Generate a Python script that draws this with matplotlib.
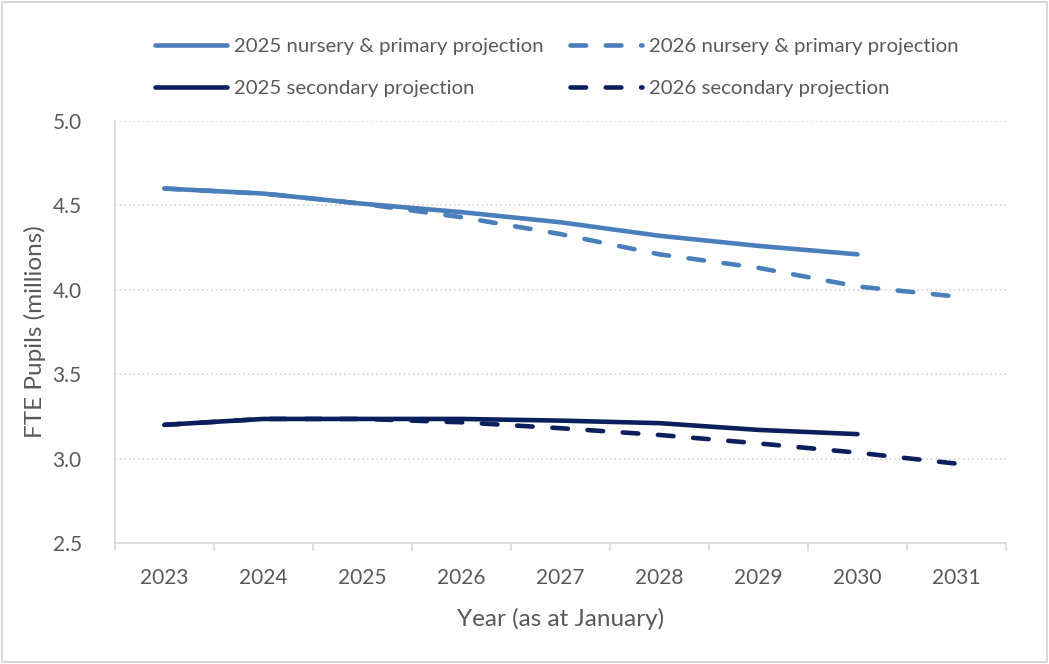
import numpy as np
import matplotlib
matplotlib.use("Agg")
from matplotlib import pyplot as plt

plt.rcParams['font.family'] = ['Lato', 'DejaVu Sans']

# data (millions of FTE pupils)
years = ['2023', '2024', '2025', '2026', '2027', '2028', '2029', '2030', '2031']
prim_2025 = [4.60, 4.57, 4.51, 4.46, 4.40, 4.32, 4.26, 4.21]
prim_2026 = [4.60, 4.57, 4.51, 4.43, 4.33, 4.21, 4.13, 4.02, 3.96]
sec_2025 = [3.20, 3.235, 3.235, 3.235, 3.225, 3.21, 3.17, 3.145]
sec_2026 = [3.20, 3.235, 3.235, 3.215, 3.18, 3.14, 3.09, 3.035, 2.97]

light = '#4a7ebb'
dark = '#0b1f5c'
grey_txt = '#595959'

fig = plt.figure(figsize=(10.49, 6.64), dpi=100)
ax = fig.add_axes([115/1049, 1-543/664, (1006-115)/1049, (543-121)/664])

x = np.arange(len(years))
lw = 3.3
dash = (3.4, 4.3)
l1, = ax.plot(x[:len(prim_2025)], prim_2025, color=light, lw=lw, solid_capstyle='round',
              label='2025 nursery & primary projection')
l2, = ax.plot(x, prim_2026, color=light, lw=lw, dashes=dash, dash_capstyle='round',
              label='2026 nursery & primary projection')
l3, = ax.plot(x[:len(sec_2025)], sec_2025, color=dark, lw=lw, solid_capstyle='round',
              label='2025 secondary projection')
l4, = ax.plot(x, sec_2026, color=dark, lw=lw, dashes=dash, dash_capstyle='round',
              label='2026 secondary projection')

ax.set_xlim(-0.5, len(years) - 0.5)
ax.set_ylim(2.5, 5.0)
ax.set_yticks(np.arange(2.5, 5.01, 0.5))
ax.set_yticklabels(['%.1f' % v for v in np.arange(2.5, 5.01, 0.5)])
ax.set_xticks(x)
ax.set_xticklabels(years)
ax.set_xticks(np.arange(-0.5, len(years)), minor=True)
ax.tick_params(axis='x', which='major', length=0, pad=18, labelsize=15, labelcolor=grey_txt)
ax.tick_params(axis='x', which='minor', length=6, color='#d9d9d9', width=1.2)
ax.tick_params(axis='y', length=0, pad=24, labelsize=15, labelcolor=grey_txt)

ax.grid(axis='y', color='#cfcfcf', linestyle=(0, (1, 2)), linewidth=1.1)
ax.set_axisbelow(True)
for s in ['top', 'right']:
    ax.spines[s].set_visible(False)
ax.spines['left'].set_color('#d9d9d9')
ax.spines['bottom'].set_color('#d9d9d9')
ax.spines['left'].set_linewidth(1.2)
ax.spines['bottom'].set_linewidth(1.2)

ax.set_xlabel('Year (as at January)', fontsize=17.5, color=grey_txt, labelpad=14)
ax.set_ylabel('FTE Pupils (millions)', fontsize=17.5, color=grey_txt, labelpad=5)

# legend rows: primary on top, secondary below
fig.legend([l1, l3, l2, l4], [l.get_label() for l in [l1, l3, l2, l4]],
           loc='upper left', bbox_to_anchor=(137/1049, 1-19/664), ncol=2,
           frameon=False, fontsize=14.7, labelcolor=grey_txt, handlelength=3.5,
           columnspacing=1.3, handletextpad=0.35, labelspacing=1.25)

# light frame around the whole picture
fig.patches.append(plt.Rectangle((0.002, 0.003), 0.996, 0.994, transform=fig.transFigure,
                                 fill=False, edgecolor='#d9d9d9', linewidth=1.5))

fig.savefig('out.png', dpi=100)
